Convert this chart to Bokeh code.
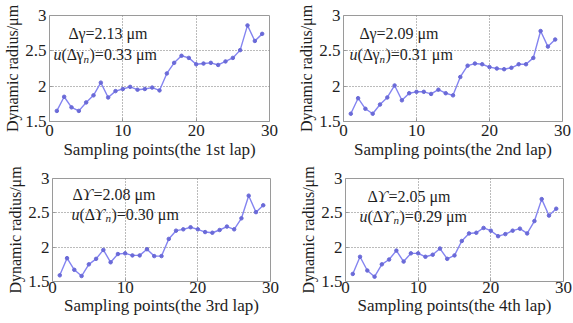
from bokeh.plotting import figure
from bokeh.layouts import column, row
from bokeh.models import Range1d, FixedTicker, Label
from bokeh.embed import file_html
from bokeh.resources import INLINE

sampling_points = list(range(1, 30))
lap1 = [1.65, 1.85, 1.70, 1.65, 1.77, 1.87, 2.05, 1.84, 1.93, 1.96, 1.99, 1.95, 1.96, 1.98, 1.94,
        2.18, 2.33, 2.43, 2.40, 2.31, 2.32, 2.33, 2.30, 2.35, 2.40, 2.51, 2.86, 2.64, 2.74]
lap2 = [1.61, 1.83, 1.68, 1.61, 1.74, 1.84, 2.01, 1.80, 1.90, 1.92, 1.92, 1.89, 1.95, 1.90, 1.87,
        2.13, 2.29, 2.32, 2.31, 2.27, 2.25, 2.24, 2.26, 2.31, 2.31, 2.40, 2.78, 2.56, 2.66]
lap3 = [1.59, 1.84, 1.67, 1.58, 1.75, 1.83, 1.96, 1.78, 1.90, 1.91, 1.88, 1.88, 1.97, 1.87, 1.87,
        2.12, 2.24, 2.26, 2.29, 2.26, 2.22, 2.21, 2.25, 2.30, 2.26, 2.42, 2.75, 2.51, 2.61]
lap4 = [1.61, 1.86, 1.66, 1.57, 1.75, 1.82, 1.95, 1.79, 1.91, 1.91, 1.86, 1.89, 1.98, 1.83, 1.88,
        2.09, 2.20, 2.21, 2.28, 2.24, 2.16, 2.19, 2.24, 2.27, 2.20, 2.38, 2.70, 2.46, 2.56]

x_ticks = [0, 10, 20, 30]
y_ticks = [1.5, 2, 2.5, 3]
y_tick_labels = ["1.5", "2", "2.5", "3"]
x_titles = ["Sampling points(the 1st lap)", "Sampling points(the 2nd lap)",
            "Sampling points(the 3rd lap)", "Sampling points(the 4th lap)"]
y_title = "Dynamic radius/\u03bcm"
delta_values = ["2.13", "2.09", "2.08", "2.05"]
u_values = ["0.33", "0.31", "0.30", "0.29"]
gamma_symbols = ["\u03b3", "\u03b3", "\u03d2", "\u03d2"]

FONT = "Liberation Serif"
LINE = "#8484f0"
MARK = "#6a6ad8"
TXT = "#1e1e1e"

# (width, height, left, right, top, bottom, tick standoff, title standoff)
layouts = [
    (290, 163, 49, 21, 15, 42, 3, 1),
    (283, 163, 53, 11, 15, 42, 3, 1),
    (290, 160, 52, 20, 12, 42, 0, 0),
    (283, 160, 55, 10, 15, 42, 0, 0),
]
anno = [
    ((2.59, 2.745), (0.55, 2.448)),
    ((2.19, 2.745), (0.82, 2.448)),
    ((2.75, 2.76), (2.61, 2.476)),
    ((3.03, 2.74), (1.93, 2.447)),
]
gamma_width = {"\u03b3": 7, "\u03d2": 11}
series = [lap1, lap2, lap3, lap4]


def make(i):
    w, h, l, r, t, b, ts, ls = layouts[i]
    p = figure(width=w, height=h, output_backend="svg", toolbar_location=None,
               x_range=Range1d(0, 30), y_range=Range1d(1.5, 3),
               min_border_left=l, min_border_right=r, min_border_top=t, min_border_bottom=b)
    p.outline_line_color = "#9a9a9a"
    p.outline_line_width = 1
    for ax in (p.xaxis[0], p.yaxis[0]):
        ax.axis_line_color = None
        ax.major_tick_in = 3
        ax.major_tick_out = 0
        ax.major_tick_line_color = "#9a9a9a"
        ax.minor_tick_line_color = None
        ax.major_label_text_font = FONT
        ax.major_label_text_font_size = "17px"
        ax.major_label_text_color = TXT
        ax.axis_label_text_font = FONT
        ax.axis_label_text_font_style = "normal"
        ax.axis_label_text_color = TXT
    p.xaxis.axis_label_text_font_size = "17px"
    p.yaxis.axis_label_text_font_size = "16px"
    p.xaxis.ticker = FixedTicker(ticks=x_ticks)
    p.yaxis.ticker = FixedTicker(ticks=y_ticks)
    p.yaxis.major_label_overrides = dict(zip(y_ticks, y_tick_labels))
    p.xaxis.major_label_standoff = ts
    p.yaxis.major_label_standoff = 3
    p.xaxis.axis_label_standoff = ls
    p.yaxis.axis_label_standoff = 1
    p.xaxis.axis_label = x_titles[i]
    p.yaxis.axis_label = y_title
    p.xgrid.ticker = FixedTicker(ticks=[10, 20])
    p.ygrid.ticker = FixedTicker(ticks=[2, 2.5])
    for g in (p.xgrid[0], p.ygrid[0]):
        g.grid_line_color = "#777777"
        g.grid_line_dash = "1 2"
        g.grid_line_width = 1
    p.line(sampling_points, series[i], line_color=LINE, line_width=1.4)
    p.scatter(sampling_points, series[i], size=3.5, fill_color=MARK, line_color=MARK)

    (x1, y1), (x2, y2) = anno[i]
    gsym = gamma_symbols[i]
    gw = gamma_width[gsym]
    common = dict(text_font=FONT, text_font_size="16px", text_color=TXT,
                  text_baseline="middle")
    # first line: Δγ=... μm
    p.add_layout(Label(x=x1, y=y1, text="\u0394", **common))
    p.add_layout(Label(x=x1, y=y1, x_offset=10, text=gsym,
                       text_font_style="italic" if gw > 8 else "normal", **common))
    p.add_layout(Label(x=x1, y=y1, x_offset=10 + gw, text="=" + delta_values[i] + " \u03bcm", **common))
    # second line: u(Δγ_n)=... μm
    p.add_layout(Label(x=x2, y=y2, text="u", text_font_style="italic", **common))
    p.add_layout(Label(x=x2, y=y2, x_offset=8, text="(\u0394", **common))
    p.add_layout(Label(x=x2, y=y2, x_offset=23, text=gsym,
                       text_font_style="italic" if gw > 8 else "normal", **common))
    p.add_layout(Label(x=x2, y=y2, x_offset=23 + gw, y_offset=-4, text="n", text_font_style="italic",
                       text_font=FONT, text_font_size="11px", text_color=TXT,
                       text_baseline="middle"))
    p.add_layout(Label(x=x2, y=y2, x_offset=29 + gw, text=")=" + u_values[i] + " \u03bcm", **common))
    return p


plots = [make(i) for i in range(4)]
layout = column(row(plots[0], plots[1], spacing=0), row(plots[2], plots[3], spacing=0), spacing=0)
open("out.html", "w").write(file_html(layout, INLINE))
